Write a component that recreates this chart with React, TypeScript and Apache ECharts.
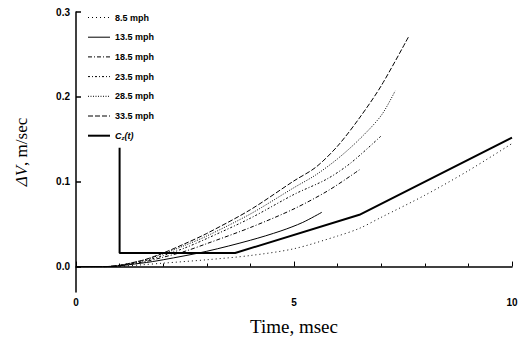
import React, { useEffect, useRef } from "react";
import * as echarts from "echarts";

const t85 = [0, 0.8, 1.5, 2, 3, 4, 5, 6, 6.5, 7, 8, 9, 10];
const v85 = [0, 0, 0.002, 0.004, 0.008, 0.013, 0.021, 0.036, 0.045, 0.058, 0.084, 0.113, 0.145];

const t135 = [0, 0.7, 1.5, 2, 3, 4, 4.7, 5.2, 5.64];
const v135 = [0, 0, 0.004, 0.008, 0.018, 0.031, 0.042, 0.052, 0.064];

const t185 = [0, 0.7, 1.5, 2, 2.5, 3, 4, 5, 5.8, 6.5];
const v185 = [0, 0, 0.005, 0.011, 0.018, 0.027, 0.046, 0.068, 0.09, 0.114];

const t235 = [0, 0.7, 1.5, 2, 2.5, 3, 4, 5, 5.75, 6.3, 7];
const v235 = [0, 0, 0.006, 0.013, 0.022, 0.033, 0.057, 0.085, 0.103, 0.122, 0.154];

const t285 = [0, 0.7, 1.5, 2, 2.5, 3, 4, 5, 5.5, 6, 6.5, 7, 7.32];
const v285 = [0, 0, 0.007, 0.015, 0.025, 0.036, 0.062, 0.093, 0.108, 0.127, 0.15, 0.178, 0.207];

const t335 = [0, 0.7, 1.5, 2, 2.5, 3, 4, 5, 5.5, 6, 6.5, 7, 7.64];
const v335 = [0, 0, 0.007, 0.016, 0.027, 0.039, 0.067, 0.101, 0.117, 0.142, 0.175, 0.213, 0.272];

const tCz = [1, 1, 3.65, 6.5, 10];
const vCz = [0.14, 0.016, 0.016, 0.061, 0.152];

const seriesNames = ["8.5 mph", "13.5 mph", "18.5 mph", "23.5 mph", "28.5 mph", "33.5 mph", "Cz(t)"];
const yTicks = [0, 0.1, 0.2, 0.3];
const xLabels = [0, 5, 10];

const zip = (t: number[], v: number[]) => t.map((x, i) => [x, v[i]]);

export default function App() {
  const ref = useRef<HTMLDivElement>(null);
  useEffect(() => {
    if (!ref.current) return;
    const chart = echarts.init(ref.current, null, { renderer: "svg" });
    const dashes: any[] = [
      [1, 3],
      "solid",
      [4, 2, 1, 2],
      [2, 2, 1, 2],
      [1, 1.5],
      [5, 2],
      "solid",
    ];
    const widths = [1, 1, 1, 1, 1, 1, 2];
    const datasets = [
      zip(t85, v85),
      zip(t135, v135),
      zip(t185, v185),
      zip(t235, v235),
      zip(t285, v285),
      zip(t335, v335),
      zip(tCz, vCz),
    ];
    const series = datasets.map((d, i) => ({
      type: "line",
      name: seriesNames[i],
      data: d,
      showSymbol: false,
      symbol: "none",
      smooth: i === 6 ? false : 0.3,
      lineStyle: {
        color: "#000",
        width: widths[i],
        type: dashes[i],
      },
      itemStyle: { color: "#000" },
    }));
    chart.setOption({
      animation: false,
      backgroundColor: "#fff",
      grid: { left: 76, right: 18, top: 12, bottom: 49 },
      legend: {
        orient: "vertical",
        left: 82,
        top: 8,
        itemWidth: 22,
        itemHeight: 8,
        itemGap: 10.7,
        data: seriesNames.map((n, i) => ({
          name: n,
          lineStyle: { width: widths[i], type: dashes[i], color: "#000" },
        })),
        itemStyle: { opacity: 0, borderWidth: 0 },
        formatter: (n: string) => (n === "Cz(t)" ? "{i|C}{s|z}{i|(t)}" : n),
        textStyle: {
          fontFamily: "Liberation Sans",
          fontSize: 9,
          fontWeight: "bold",
          color: "#000",
          rich: {
            i: { fontFamily: "Liberation Sans", fontSize: 9, fontStyle: "italic", fontWeight: "bold", color: "#000" },
            s: { fontFamily: "Liberation Sans", fontSize: 6, fontStyle: "italic", fontWeight: "bold", color: "#000", verticalAlign: "bottom", padding: [5, 0, 0, 0] },
          },
        },
      },
      xAxis: {
        type: "value",
        min: 0,
        max: 10,
        interval: 5,
        name: "Time, msec",
        nameLocation: "middle",
        nameGap: 25,
        nameTextStyle: { fontFamily: "Liberation Serif", fontSize: 19, color: "#000" },
        axisLine: { lineStyle: { color: "#000", width: 1.5 } },
        axisTick: { inside: true, length: 5, lineStyle: { color: "#000", width: 1 } },
        minorTick: { show: true, splitNumber: 5, length: 3, lineStyle: { color: "#000", width: 1 } },
        axisLabel: {
          customValues: xLabels,
          fontFamily: "Liberation Sans",
          fontWeight: "bold",
          fontSize: 10,
          color: "#000",
          margin: 5,
        },
        splitLine: { show: false },
      },
      yAxis: {
        type: "value",
        min: -0.03,
        max: 0.3,
        name: "{i|ΔV}, m/sec",
        nameLocation: "middle",
        nameGap: 46,
        nameRotate: 90,
        nameTextStyle: {
          fontFamily: "Liberation Serif",
          fontSize: 17,
          color: "#000",
          rich: {
            i: { fontFamily: "Liberation Serif", fontSize: 17, fontStyle: "italic", color: "#000" },
          },
        },
        axisLine: { show: true, lineStyle: { color: "#000", width: 1.5 } },
        axisTick: { show: true, inside: true, length: 5, customValues: yTicks, lineStyle: { color: "#000", width: 1.5 } },
        axisLabel: {
          customValues: yTicks,
          formatter: (v: number) => v.toFixed(1),
          fontFamily: "Liberation Sans",
          fontWeight: "bold",
          fontSize: 10,
          color: "#000",
          margin: 6,
        },
        splitLine: { show: false },
      },
      series,
    });
    return () => chart.dispose();
  }, []);
  return <div ref={ref} style={{ position: "fixed", left: 0, top: 0, width: 530, height: 341 }} />;
}
